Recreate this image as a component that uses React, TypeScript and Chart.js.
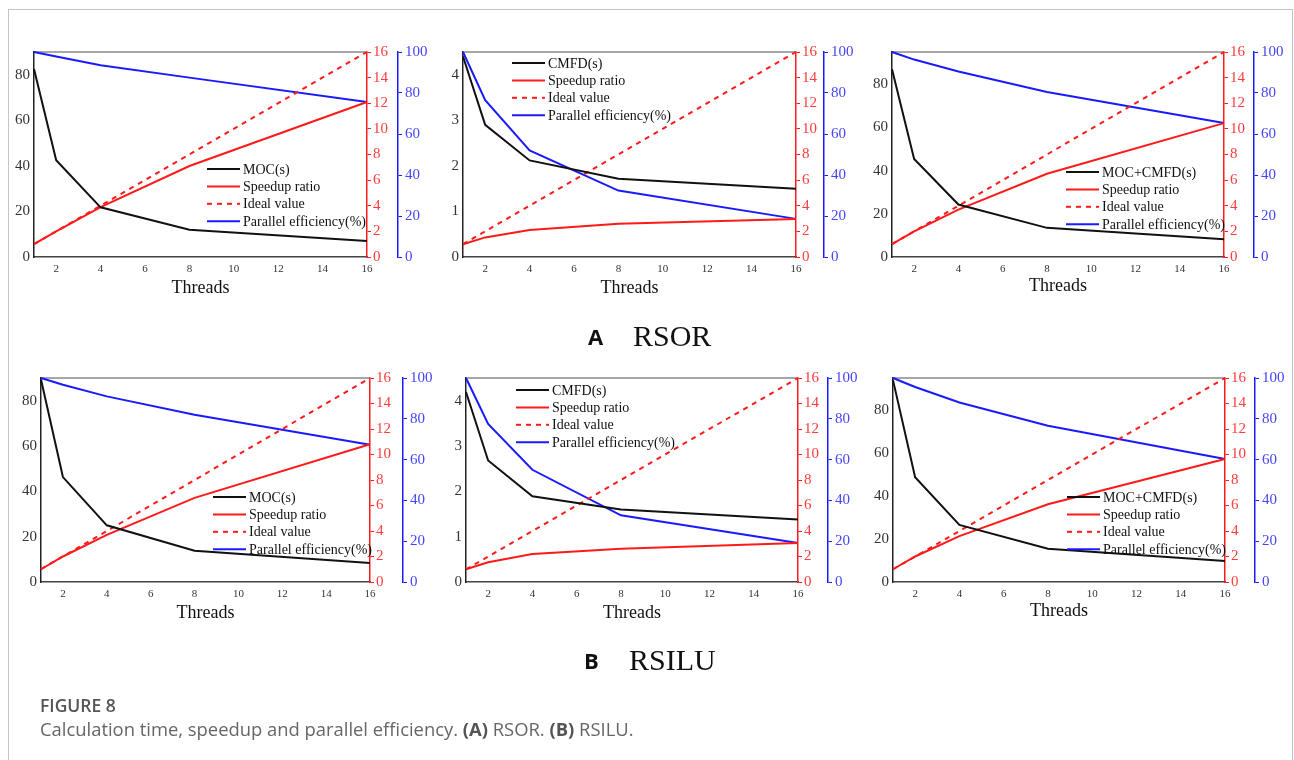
import React, { useEffect, useRef } from "react";
import { Chart, registerables } from "chart.js";

Chart.register(...registerables);

// ---------- data ----------
const threads = [1, 2, 4, 8, 16];
const threadTicks = [2, 4, 6, 8, 10, 12, 14, 16];
const idealSpeedup = [1, 2, 4, 8, 16];
const timeTicksLarge = [0, 20, 40, 60, 80];
const timeTicksSmall = [0, 1, 2, 3, 4];

const timeLabels = ["MOC(s)", "CMFD(s)", "MOC+CMFD(s)"];
const seriesLabels = ["Speedup ratio", "Ideal value", "Parallel efficiency(%)"];

// (A) RSOR
const rsorMocTime = [82.5, 42.5, 21.8, 12, 7];
const rsorMocSpeedup = [1, 2, 3.9, 7.1, 12.1];
const rsorMocEff = [100, 97.8, 93.5, 87.5, 75.6];

const rsorCmfdTime = [4.4, 2.9, 2.12, 1.72, 1.5];
const rsorCmfdSpeedup = [1, 1.53, 2.1, 2.6, 2.97];
const rsorCmfdEff = [100, 76.5, 52, 32.4, 18.6];

const rsorTotalTime = [87, 45.4, 24.3, 13.5, 8.2];
const rsorTotalSpeedup = [1, 2.0, 3.7, 6.5, 10.45];
const rsorTotalEff = [100, 96.3, 90.5, 80.5, 65.4];

// (B) RSILU
const rsiluMocTime = [89.3, 46.3, 25, 13.8, 8.4];
const rsiluMocSpeedup = [1, 2.0, 3.7, 6.6, 10.8];
const rsiluMocEff = [100, 96.7, 91, 82, 67.3];

const rsiluCmfdTime = [4.19, 2.68, 1.89, 1.6, 1.38];
const rsiluCmfdSpeedup = [1, 1.55, 2.2, 2.6, 3.06];
const rsiluCmfdEff = [100, 77.5, 55, 32.7, 19.1];

const rsiluTotalTime = [94, 48.8, 26.6, 15.5, 9.75];
const rsiluTotalSpeedup = [1, 2.0, 3.6, 6.1, 9.65];
const rsiluTotalEff = [100, 95.6, 88, 76.6, 60.3];

// ---------- styling / layout ----------
const BLACK = "#111111";
const RED = "#ff1a1a";
const BLUE = "#1a1aff";
const SERIF = '"Liberation Serif", "Times New Roman", serif';
const SANS = '"Open Sans", "Noto Sans", sans-serif';
const LEFT_W = 30;
const RIGHT_W = 72;
const TOP_PAD = 14;

type PanelCfg = {
  timeLabel: string;
  time: number[];
  speedup: number[];
  eff: number[];
  timeMax: number;
  timeTicks: number[];
  left: number;
  right: number;
  top: number;
  bottom: number;
  blueGap: number;
  titleY: number;
  legendDx: number;
  legendDy: number;
};

const panels: PanelCfg[] = [
  { timeLabel: timeLabels[0], time: rsorMocTime, speedup: rsorMocSpeedup, eff: rsorMocEff, timeMax: 90, timeTicks: timeTicksLarge, left: 34, right: 367, top: 52, bottom: 257, blueGap: 31, titleY: 288, legendDx: 173, legendDy: 117 },
  { timeLabel: timeLabels[1], time: rsorCmfdTime, speedup: rsorCmfdSpeedup, eff: rsorCmfdEff, timeMax: 4.5, timeTicks: timeTicksSmall, left: 463, right: 796, top: 52, bottom: 257, blueGap: 28, titleY: 288, legendDx: 49, legendDy: 11 },
  { timeLabel: timeLabels[2], time: rsorTotalTime, speedup: rsorTotalSpeedup, eff: rsorTotalEff, timeMax: 95, timeTicks: timeTicksLarge, left: 892, right: 1224, top: 52, bottom: 257, blueGap: 30, titleY: 286, legendDx: 174, legendDy: 120 },
  { timeLabel: timeLabels[0], time: rsiluMocTime, speedup: rsiluMocSpeedup, eff: rsiluMocEff, timeMax: 90, timeTicks: timeTicksLarge, left: 41, right: 370, top: 378, bottom: 582, blueGap: 33, titleY: 613, legendDx: 172, legendDy: 119 },
  { timeLabel: timeLabels[1], time: rsiluCmfdTime, speedup: rsiluCmfdSpeedup, eff: rsiluCmfdEff, timeMax: 4.5, timeTicks: timeTicksSmall, left: 466, right: 798, top: 378, bottom: 582, blueGap: 30, titleY: 613, legendDx: 50, legendDy: 12 },
  { timeLabel: timeLabels[2], time: rsiluTotalTime, speedup: rsiluTotalSpeedup, eff: rsiluTotalEff, timeMax: 95, timeTicks: timeTicksLarge, left: 893, right: 1225, top: 378, bottom: 582, blueGap: 30, titleY: 611, legendDx: 174, legendDy: 119 },
];

const pts = (ys: number[]) => threads.map((x, i) => ({ x, y: ys[i] }));

const topFramePlugin = {
  id: "topFrame",
  beforeDatasetsDraw(chart: any) {
    const { ctx, chartArea } = chart;
    ctx.save();
    ctx.strokeStyle = "#8a8a8a";
    ctx.lineWidth = 1.5;
    ctx.beginPath();
    ctx.moveTo(chartArea.left, chartArea.top);
    ctx.lineTo(chartArea.right, chartArea.top);
    ctx.stroke();
    ctx.restore();
  },
};

const panelLegendPlugin = {
  id: "panelLegend",
  afterDatasetsDraw(chart: any, _args: any, opts: any) {
    const { ctx, chartArea } = chart;
    ctx.save();
    ctx.font = `14px ${SERIF}`;
    ctx.textBaseline = "middle";
    ctx.textAlign = "left";
    chart.data.datasets.forEach((ds: any, i: number) => {
      const x = chartArea.left + opts.dx;
      const y = chartArea.top + opts.dy + i * opts.row;
      ctx.strokeStyle = ds.borderColor;
      ctx.lineWidth = 2;
      ctx.setLineDash(ds.borderDash || []);
      ctx.beginPath();
      ctx.moveTo(x, y);
      ctx.lineTo(x + 33, y);
      ctx.stroke();
      ctx.setLineDash([]);
      ctx.fillStyle = "#111";
      ctx.fillText(ds.label, x + 36, y + 1);
    });
    ctx.restore();
  },
};

function Panel({ p }: { p: PanelCfg }) {
  const ref = useRef<HTMLCanvasElement>(null);
  const xH = p.titleY + 11 - p.bottom;
  const cw = p.right - p.left + LEFT_W + RIGHT_W;
  const ch = p.bottom - p.top + TOP_PAD + xH;

  useEffect(() => {
    const chart = new Chart(ref.current as HTMLCanvasElement, {
      type: "line",
      data: {
        datasets: [
          { label: p.timeLabel, data: pts(p.time), yAxisID: "y", borderColor: BLACK, borderWidth: 2, pointRadius: 0, clip: false, tension: 0 } as any,
          { label: seriesLabels[0], data: pts(p.speedup), yAxisID: "y1", borderColor: RED, borderWidth: 2, pointRadius: 0, clip: false } as any,
          { label: seriesLabels[1], data: pts(idealSpeedup), yAxisID: "y1", borderColor: RED, borderWidth: 2, borderDash: [5, 5], pointRadius: 0, clip: false } as any,
          { label: seriesLabels[2], data: pts(p.eff), yAxisID: "y2", borderColor: BLUE, borderWidth: 2, pointRadius: 0, clip: false } as any,
        ],
      },
      options: {
        animation: false,
        responsive: false,
        devicePixelRatio: 1,
        layout: { padding: { top: TOP_PAD, left: 0, right: 0, bottom: 0 } },
        plugins: {
          legend: { display: false },
          tooltip: { enabled: false },
          panelLegend: { dx: p.legendDx, dy: p.legendDy, row: 17.4 },
        } as any,
        scales: {
          x: {
            type: "linear",
            min: 1,
            max: 16,
            afterBuildTicks: (s: any) => {
              s.ticks = threadTicks.map((v) => ({ value: v }));
            },
            afterFit: (s: any) => {
              s.height = xH;
            },
            grid: { drawOnChartArea: false, drawTicks: false },
            border: { display: true, color: "#444", width: 1.5 },
            ticks: { color: "#333", font: { family: SERIF, size: 11 }, padding: 6, maxRotation: 0 },
            title: { display: true, text: "Threads", color: "#111", font: { family: SERIF, size: 18 }, padding: { top: 0, bottom: 0 } },
          },
          y: {
            type: "linear",
            position: "left",
            min: 0,
            max: p.timeMax,
            afterBuildTicks: (s: any) => {
              s.ticks = p.timeTicks.map((v) => ({ value: v }));
            },
            afterFit: (s: any) => {
              s.width = LEFT_W;
            },
            grid: { drawOnChartArea: false, drawTicks: false },
            border: { display: true, color: "#222", width: 1.5 },
            ticks: { color: "#333", font: { family: SERIF, size: 15 }, padding: 4 },
          },
          y1: {
            type: "linear",
            position: "right",
            min: 0,
            max: 16,
            weight: 0,
            ticks: { stepSize: 2, color: "#ff3b3b", font: { family: SERIF, size: 15 }, padding: 2 },
            afterFit: (s: any) => {
              s.width = p.blueGap;
            },
            grid: { drawOnChartArea: false, drawTicks: true, tickLength: 4, color: RED, lineWidth: 1 },
            border: { display: true, color: RED, width: 1.5 },
          },
          y2: {
            type: "linear",
            position: "right",
            min: 0,
            max: 100,
            weight: 1,
            ticks: { stepSize: 20, color: "#4545ff", font: { family: SERIF, size: 15 }, padding: 3 },
            afterFit: (s: any) => {
              s.width = RIGHT_W - p.blueGap;
            },
            grid: { drawOnChartArea: false, drawTicks: true, tickLength: 4, color: BLUE, lineWidth: 1 },
            border: { display: true, color: BLUE, width: 1.5 },
          },
        } as any,
      },
      plugins: [topFramePlugin, panelLegendPlugin],
    });
    return () => chart.destroy();
  }, []);

  return (
    <canvas
      ref={ref}
      width={cw}
      height={ch}
      style={{
        position: "absolute",
        left: p.left - LEFT_W - 8,
        top: p.top - TOP_PAD - 8,
        width: cw,
        height: ch,
      }}
    />
  );
}

function SubTitle({ letter, name, letterX, nameX, cy }: { letter: string; name: string; letterX: number; nameX: number; cy: number }) {
  return (
    <>
      <div style={{ position: "absolute", left: letterX - 8, top: cy - 8 - 11, fontFamily: SANS, fontWeight: 700, fontSize: 22, lineHeight: "22px", color: "#111" }}>
        {letter}
      </div>
      <div style={{ position: "absolute", left: nameX - 8, top: cy - 8 - 15, fontFamily: SERIF, fontSize: 30, lineHeight: "30px", color: "#111" }}>
        {name}
      </div>
    </>
  );
}

export default function App() {
  return (
    <div style={{ position: "relative", width: 1278, height: 744, overflow: "hidden", background: "#fff" }}>
      <div style={{ position: "fixed", left: 8, top: 9, width: 1285, height: 820, border: "1px solid #c4c4c4", boxSizing: "border-box", pointerEvents: "none" }} />
      {panels.map((p, i) => (
        <Panel key={i} p={p} />
      ))}
      <SubTitle letter="A" name="RSOR" letterX={588} nameX={633} cy={336} />
      <SubTitle letter="B" name="RSILU" letterX={584} nameX={629} cy={660} />
      <div style={{ position: "absolute", left: 32, top: 705 - 8 - 11, fontFamily: SANS, fontWeight: 600, fontSize: 17.5, lineHeight: "22px", color: "#555" }}>
        FIGURE 8
      </div>
      <div style={{ position: "absolute", left: 32, top: 729 - 8 - 11, fontFamily: SANS, fontSize: 18.4, lineHeight: "22px", color: "#666", whiteSpace: "nowrap" }}>
        Calculation time, speedup and parallel efficiency. <b style={{ color: "#555" }}>(A)</b> RSOR. <b style={{ color: "#555" }}>(B)</b> RSILU.
      </div>
    </div>
  );
}
